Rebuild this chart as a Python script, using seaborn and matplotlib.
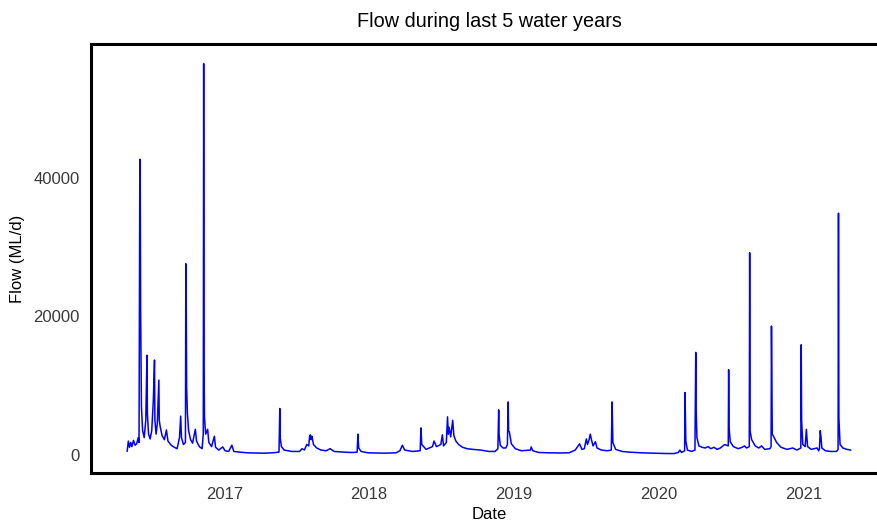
import pandas as pd
import matplotlib.pyplot as plt
import matplotlib.dates as mdates
import seaborn as sns

# daily flow (ML/d), key points only
dates = [
    # 2016
    "2016-05-01", "2016-05-04", "2016-05-07", "2016-05-10", "2016-05-13", "2016-05-17",
    "2016-05-21", "2016-05-25", "2016-05-29", "2016-05-31", "2016-06-02", "2016-06-03",
    "2016-06-04", "2016-06-06", "2016-06-09", "2016-06-13", "2016-06-17", "2016-06-20",
    "2016-06-21", "2016-06-24", "2016-06-28", "2016-07-02", "2016-07-06", "2016-07-09",
    "2016-07-10", "2016-07-13", "2016-07-16", "2016-07-20", "2016-07-21", "2016-07-23",
    "2016-07-28", "2016-08-03", "2016-08-08", "2016-08-12", "2016-08-20", "2016-08-28",
    "2016-09-04", "2016-09-10", "2016-09-13", "2016-09-15", "2016-09-20", "2016-09-25",
    "2016-09-26", "2016-09-27", "2016-09-28", "2016-09-30", "2016-10-03", "2016-10-08",
    "2016-10-13", "2016-10-20", "2016-10-23", "2016-10-30", "2016-11-06", "2016-11-09",
    "2016-11-10", "2016-11-11", "2016-11-12", "2016-11-15", "2016-11-20", "2016-11-23",
    "2016-11-30", "2016-12-07", "2016-12-10", "2016-12-18", "2016-12-28",
    # 2017
    "2017-01-03", "2017-01-12", "2017-01-20", "2017-01-25", "2017-02-10", "2017-03-01",
    "2017-03-20", "2017-04-10", "2017-05-01", "2017-05-19", "2017-05-21", "2017-05-22",
    "2017-05-25", "2017-06-01", "2017-06-20", "2017-07-10", "2017-07-16", "2017-07-22",
    "2017-07-28", "2017-08-02", "2017-08-04", "2017-08-06", "2017-08-08", "2017-08-10",
    "2017-08-14", "2017-08-22", "2017-09-02", "2017-09-15", "2017-09-25", "2017-10-05",
    "2017-10-30", "2017-11-20", "2017-12-02", "2017-12-04", "2017-12-06", "2017-12-12",
    "2017-12-30",
    # 2018
    "2018-02-10", "2018-03-10", "2018-03-20", "2018-03-26", "2018-04-01", "2018-04-20",
    "2018-05-10", "2018-05-12", "2018-05-14", "2018-05-25", "2018-06-10", "2018-06-14",
    "2018-06-20", "2018-07-01", "2018-07-05", "2018-07-08", "2018-07-15", "2018-07-18",
    "2018-07-20", "2018-07-22", "2018-07-26", "2018-07-31", "2018-08-03", "2018-08-08",
    "2018-08-15", "2018-08-25", "2018-09-05", "2018-09-20", "2018-10-10", "2018-10-30",
    "2018-11-15", "2018-11-22", "2018-11-24", "2018-11-25", "2018-11-28", "2018-12-05",
    "2018-12-12", "2018-12-16", "2018-12-18", "2018-12-19", "2018-12-21", "2018-12-26",
    # 2019
    "2019-01-05", "2019-01-20", "2019-02-12", "2019-02-14", "2019-02-18", "2019-03-05",
    "2019-04-01", "2019-05-01", "2019-05-20", "2019-06-05", "2019-06-16", "2019-06-22",
    "2019-06-28", "2019-07-03", "2019-07-06", "2019-07-10", "2019-07-13", "2019-07-16",
    "2019-07-20", "2019-07-26", "2019-07-30", "2019-08-10", "2019-08-25", "2019-09-04",
    "2019-09-06", "2019-09-08", "2019-09-15", "2019-10-01", "2019-10-20", "2019-11-20",
    "2019-12-20",
    # 2020
    "2020-01-20", "2020-02-10", "2020-02-20", "2020-02-24", "2020-02-28", "2020-03-07",
    "2020-03-08", "2020-03-10", "2020-03-14", "2020-03-25", "2020-04-02", "2020-04-04",
    "2020-04-05", "2020-04-07", "2020-04-12", "2020-04-20", "2020-04-28", "2020-05-05",
    "2020-05-12", "2020-05-20", "2020-05-28", "2020-06-05", "2020-06-16", "2020-06-25",
    "2020-06-26", "2020-06-27", "2020-06-30", "2020-07-08", "2020-07-20", "2020-07-30",
    "2020-08-05", "2020-08-10", "2020-08-17", "2020-08-18", "2020-08-19", "2020-08-23",
    "2020-09-01", "2020-09-10", "2020-09-17", "2020-09-25", "2020-10-08", "2020-10-11",
    "2020-10-12", "2020-10-13", "2020-10-14", "2020-10-17", "2020-10-25", "2020-11-05",
    "2020-11-20", "2020-12-05", "2020-12-15", "2020-12-25", "2020-12-26", "2020-12-27",
    "2020-12-30",
    # 2021
    "2021-01-05", "2021-01-08", "2021-01-11", "2021-01-20", "2021-02-04", "2021-02-08",
    "2021-02-10", "2021-02-12", "2021-02-14", "2021-02-16", "2021-02-25", "2021-03-10",
    "2021-03-25", "2021-03-29", "2021-03-30", "2021-03-31", "2021-04-03", "2021-04-10",
    "2021-04-20", "2021-04-30",
]

flow = [
    # 2016
    500, 2000, 1100, 1800, 1200, 2100,
    1400, 1600, 2500, 1800, 42700, 39900,
    21000, 7000, 3500, 2500, 5000, 14400,
    6000, 3000, 2300, 3500, 7800, 13700,
    5000, 3000, 4500, 10800, 5000, 4200,
    2800, 2200, 3600, 2000, 1400, 1100,
    900, 2500, 5600, 2500, 1500, 1800,
    27600, 22200, 9700, 6000, 3500, 2200,
    1700, 3700, 2000, 1200, 900, 3000,
    56500, 12600, 5500, 3000, 3700, 1800,
    1200, 2700, 1100, 700, 1150,
    # 2017
    600, 500, 1400, 500, 400, 300,
    280, 250, 300, 400, 6700, 2500,
    1200, 700, 500, 500, 900, 700,
    1500, 1300, 2600, 2900, 2200, 2700,
    1500, 1000, 700, 600, 900, 500,
    400, 350, 400, 3000, 1000, 500,
    300,
    # 2018
    250, 300, 600, 1400, 700, 500,
    600, 3900, 1500, 800, 1200, 2000,
    1200, 1500, 2900, 1300, 1800, 5500,
    3000, 4000, 2600, 5000, 2800, 2000,
    1500, 1100, 900, 800, 700, 500,
    500, 900, 6500, 3000, 1400, 1000,
    1000, 1500, 7650, 3500, 3300, 1600,
    # 2019
    900, 600, 700, 1150, 600, 350,
    300, 280, 300, 700, 1600, 800,
    900, 2300, 1500, 2200, 3000, 2200,
    1300, 1900, 1000, 700, 600, 700,
    7650, 1800, 800, 500, 400, 300,
    250,
    # 2020
    200, 200, 350, 700, 350, 600,
    9000, 2000, 700, 500, 700, 14800,
    6600, 2500, 1300, 1100, 1000, 1200,
    900, 1100, 800, 1000, 1500, 1300,
    12300, 4000, 1900, 1200, 900, 1100,
    1300, 1000, 1200, 29200, 3500, 2200,
    1300, 1000, 1300, 800, 900, 1200,
    18600, 10700, 3000, 2700, 1800, 1100,
    800, 1000, 700, 1000, 15900, 5000,
    1500,
    # 2021
    1200, 3700, 1200, 800, 1000, 600,
    900, 3500, 2500, 1000, 600, 500,
    500, 800, 34900, 5400, 1500, 1000,
    800, 700,
]

y_ticks = [0, 20000, 40000]

df = pd.DataFrame({"Date": pd.to_datetime(dates), "Flow": flow})

sns.set_style("white")
plt.rcParams['font.family'] = ['Liberation Sans', 'DejaVu Sans']

fig = plt.figure(figsize=(8.78, 5.25), dpi=100)
# panel runs past the right edge, as in the original export
ax = fig.add_axes([0.1036, 0.099, 0.9066, 0.817])
sns.lineplot(data=df, x="Date", y="Flow", color="#0000ff", linewidth=1.1, ax=ax)

ax.margins(x=0.05, y=0.05)
ax.set_yticks(y_ticks)
ax.xaxis.set_major_locator(mdates.YearLocator())
ax.xaxis.set_major_formatter(mdates.DateFormatter("%Y"))
ax.tick_params(axis="x", length=0, pad=10, labelsize=12, labelcolor="#3a3a3a")
ax.tick_params(axis="y", length=0, pad=8, labelsize=12, labelcolor="#3a3a3a")

for side in ["left", "right", "top", "bottom"]:
    ax.spines[side].set_visible(True)
    ax.spines[side].set_color("black")
    ax.spines[side].set_linewidth(2.2)

ax.set_title("Flow during last 5 water years", fontsize=14.3, pad=12, color="black")
ax.set_xlabel("Date", fontsize=12, labelpad=4, color="black")
ax.set_ylabel("Flow (ML/d)", fontsize=12, labelpad=6, color="black")

fig.savefig("out.png", dpi=100)
